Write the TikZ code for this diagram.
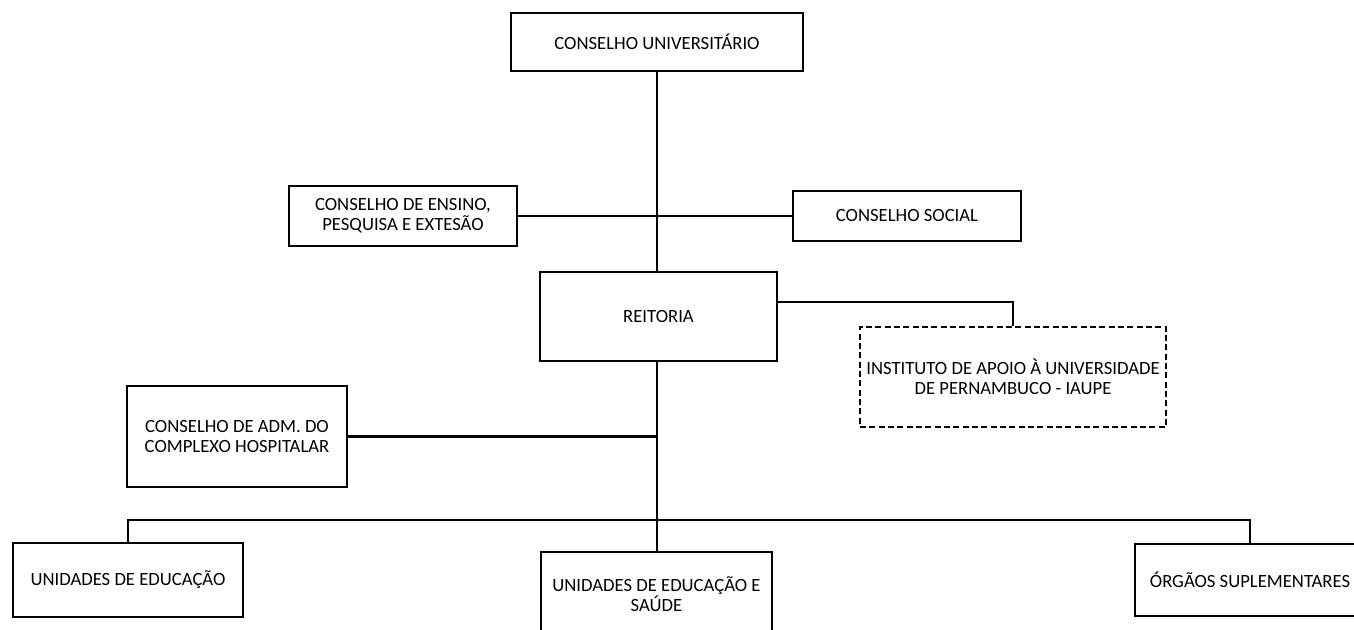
\documentclass[tikz,border=0pt]{standalone}
\usepackage{fontspec}
\setmainfont{Carlito}
\usetikzlibrary{calc,shadows}
\begin{document}
\begin{tikzpicture}[x=0.75pt,y=-0.75pt,
  every node/.style={font=\fontsize{14}{15}\selectfont, align=center, inner sep=0pt},
  orgbox/.style n args={2}{draw=black, line width=1.9pt, fill=white,
     minimum width=#1*0.75pt, minimum height=#2*0.75pt,
     drop shadow={shadow xshift=1pt, shadow yshift=-1pt, opacity=0.35, fill=gray}},
  dashbox/.style n args={2}{draw=black, line width=1.7pt, dash pattern=on 4.5pt off 2.5pt, fill=white,
     minimum width=#1*0.75pt, minimum height=#2*0.75pt},
  link/.style={draw=black, line width=1.9pt}]
\useasboundingbox (0,0) rectangle (1354,630);
\clip (0,0) rectangle (1354,630);
\fill[white] (0,0) rectangle (1354,630);

\node[orgbox={292}{58}] (cu) at (657,42) {CONSELHO UNIVERSITÁRIO};
\node[orgbox={228}{60}] (cepe) at (403,216) {CONSELHO DE ENSINO,\\PESQUISA E EXTESÃO};
\node[orgbox={228}{50}] (cs) at (907,216) {CONSELHO SOCIAL};
\node[orgbox={237}{89}] (rei) at (658.5,316.5) {REITORIA};
\node[dashbox={306}{100}] (iaupe) at (1013,377) {INSTITUTO DE APOIO À UNIVERSIDADE\\DE PERNAMBUCO - IAUPE};
\node[orgbox={220}{101}] (cach) at (237,436.5) {CONSELHO DE ADM. DO\\COMPLEXO HOSPITALAR};
\node[orgbox={230}{74}] (ue) at (128,580) {UNIDADES DE EDUCAÇÃO};
\node[orgbox={231}{85}] (ues) at (656.5,594.5) {UNIDADES DE EDUCAÇÃO E\\SAÚDE};
\node[orgbox={230}{72}] (os) at (1250,580) {ÓRGÃOS SUPLEMENTARES};

\coordinate (busL) at (128,520);
\coordinate (busR) at (1250,520);
\coordinate (iaupeY) at (0,302);

\draw[link] (cu.south) -- (cu.south |- rei.north);
\draw[link] (cepe.east) -- (cs.west);
\draw[link] (rei.east |- iaupeY) -| (iaupe.north);
\draw[link] (cach.east) -- (cach.east -| cu.south);
\draw[link] (cu.south |- rei.south) -- (cu.south |- ues.north);
\draw[link] (busL |- ue.north) -- (busL) -- (busR) -- (busR |- os.north);
\end{tikzpicture}
\end{document}
